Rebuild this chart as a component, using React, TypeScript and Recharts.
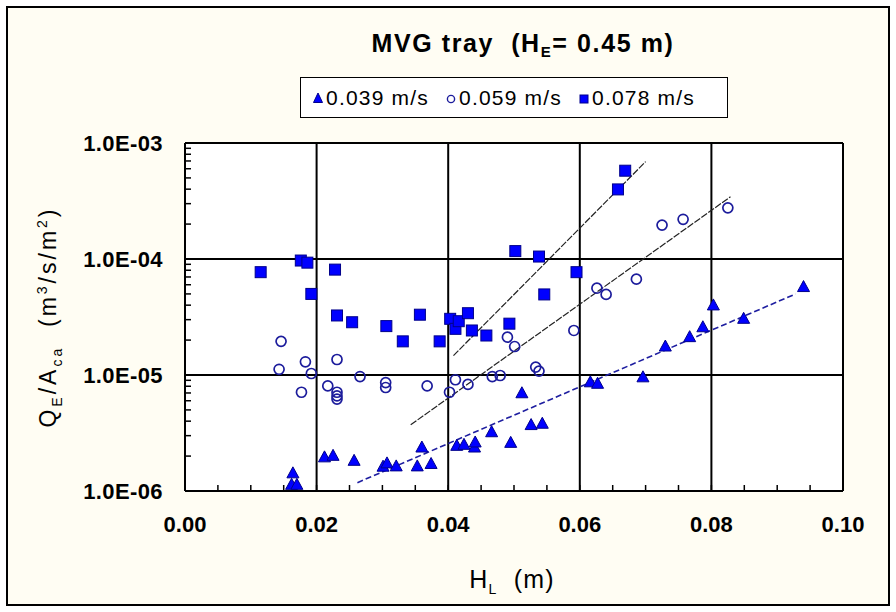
import { ScatterChart, Scatter, XAxis, YAxis, ReferenceLine, Legend, CartesianGrid } from "recharts";

// 0.039 m/s (triangles)
const triX = [0.0164, 0.0162, 0.017, 0.0212, 0.0225, 0.0257, 0.0301, 0.0307, 0.0321, 0.0353, 0.036, 0.0374, 0.0413, 0.0424, 0.044, 0.0441, 0.0466, 0.0495, 0.0512, 0.0526, 0.0543, 0.0616, 0.0627, 0.0696, 0.073, 0.0767, 0.0787, 0.0803, 0.0849, 0.094];
const triY = [1.42e-6, 1.13e-6, 1.13e-6, 1.95e-6, 2.01e-6, 1.82e-6, 1.62e-6, 1.73e-6, 1.63e-6, 1.63e-6, 2.37e-6, 1.71e-6, 2.45e-6, 2.5e-6, 2.37e-6, 2.62e-6, 3.21e-6, 2.6e-6, 6.96e-6, 3.7e-6, 3.8e-6, 8.65e-6, 8.4e-6, 9.55e-6, 1.76e-5, 2.12e-5, 2.58e-5, 3.98e-5, 3.05e-5, 5.73e-5];

// 0.059 m/s (open circles)
const cirX = [0.0146, 0.0143, 0.0183, 0.0192, 0.0177, 0.0217, 0.0231, 0.0231, 0.0231, 0.0231, 0.0266, 0.0305, 0.0305, 0.0368, 0.0402, 0.0411, 0.043, 0.0467, 0.0479, 0.049, 0.0501, 0.0533, 0.0538, 0.0591, 0.0626, 0.064, 0.0686, 0.0725, 0.0757, 0.0825];
const cirY = [1.95e-5, 1.12e-5, 1.3e-5, 1.03e-5, 7.1e-6, 8.05e-6, 1.36e-5, 7.1e-6, 6.6e-6, 6.2e-6, 9.7e-6, 8.6e-6, 7.8e-6, 8.05e-6, 7.1e-6, 9.1e-6, 8.3e-6, 9.7e-6, 9.9e-6, 2.12e-5, 1.76e-5, 1.17e-5, 1.08e-5, 2.42e-5, 5.6e-5, 4.95e-5, 6.7e-5, 1.96e-4, 2.2e-4, 2.76e-4];

// 0.078 m/s (filled squares)
const sqX = [0.0115, 0.0176, 0.0186, 0.0192, 0.0228, 0.0231, 0.0254, 0.0306, 0.0331, 0.0357, 0.0387, 0.0403, 0.0411, 0.0416, 0.043, 0.0436, 0.0458, 0.0493, 0.0502, 0.0538, 0.0546, 0.0595, 0.0658, 0.0669];
const sqY = [7.7e-5, 9.7e-5, 9.3e-5, 5.0e-5, 8.1e-5, 3.26e-5, 2.85e-5, 2.64e-5, 1.95e-5, 3.31e-5, 1.95e-5, 3.05e-5, 2.5e-5, 2.91e-5, 3.41e-5, 2.42e-5, 2.19e-5, 2.77e-5, 1.17e-4, 1.05e-4, 4.95e-5, 7.7e-5, 3.98e-4, 5.77e-4];

// trend line end points
const trendTriX = [0.0262, 0.0928];
const trendTriY = [1.18e-6, 5.0e-5];
const trendCirX = [0.0343, 0.0829];
const trendCirY = [3.72e-6, 3.44e-4];
const trendSqX = [0.0408, 0.07];
const trendSqY = [1.47e-5, 6.9e-4];

const seriesNames = ["0.039 m/s", "0.059 m/s", "0.078 m/s"];

const xTicks = [0, 0.005, 0.01, 0.015, 0.02, 0.025, 0.03, 0.035, 0.04, 0.045, 0.05, 0.055, 0.06, 0.065, 0.07, 0.075, 0.08, 0.085, 0.09, 0.095, 0.1];
const xMajor = [0, 0.02, 0.04, 0.06, 0.08, 0.1];
const xGrid = [0.02, 0.04, 0.06, 0.08];
const yDecades = [1e-6, 1e-5, 1e-4, 1e-3];
const yLabels = ["1.0E-06", "1.0E-05", "1.0E-04", "1.0E-03"];
const yGrid = [1e-5, 1e-4];

const zip = (xs: number[], ys: number[]) => xs.map((x, i) => ({ x, y: ys[i] }));

const yTicks: number[] = [];
yDecades.forEach((d, i) => {
  if (i < yDecades.length - 1) {
    for (let k = 1; k < 10; k++) yTicks.push(d * k);
  } else yTicks.push(d);
});

const FONT = "'Liberation Sans', Arial, sans-serif";
const BLUE = "#0000FF";
const NAVY = "#00008B";

const Triangle = (p: any) => (
  <polygon points={`${p.cx},${p.cy - 6.5} ${p.cx - 6},${p.cy + 4.5} ${p.cx + 6},${p.cy + 4.5}`} fill={BLUE} stroke={NAVY} strokeWidth={1} />
);
const Square = (p: any) => (
  <rect x={p.cx - 5.5} y={p.cy - 5.5} width={11} height={11} fill={BLUE} stroke={NAVY} strokeWidth={1} />
);
const Circle = (p: any) => <circle cx={p.cx} cy={p.cy} r={5} fill="none" stroke="#1C1C9C" strokeWidth={1.7} />;
const NoMark = () => <g />;

const XTick = (p: any) => {
  const v = p.payload.value;
  const major = xMajor.some((m) => Math.abs(m - v) < 1e-9);
  return (
    <g>
      <line x1={p.x} y1={p.y} x2={p.x} y2={p.y - 6} stroke="#000" strokeWidth={1.5} />
      {major && (
        <text x={p.x} y={p.y + 41} textAnchor="middle" fontSize={22} fontWeight="bold" fontFamily={FONT} fill="#000">
          {v.toFixed(2)}
        </text>
      )}
    </g>
  );
};

const YTick = (p: any) => {
  const v = p.payload.value;
  const idx = yDecades.findIndex((d) => Math.abs(d - v) / d < 1e-6);
  return (
    <g>
      <line x1={p.x} y1={p.y} x2={p.x + 6} y2={p.y} stroke="#000" strokeWidth={1.5} />
      {idx >= 0 && (
        <text x={p.x - 22} y={p.y + 8} textAnchor="end" fontSize={22} fontWeight="bold" fontFamily={FONT} fill="#000" letterSpacing={0.4}>
          {yLabels[idx]}
        </text>
      )}
    </g>
  );
};

const LegendBox = () => (
  <div
    style={{
      width: 428,
      height: 41,
      boxSizing: "border-box",
      border: "1.5px solid #000",
      background: "#fff",
      display: "flex",
      alignItems: "center",
      fontFamily: FONT,
      fontSize: 21,
      color: "#000",
      paddingLeft: 11,
    }}
  >
    {seriesNames.map((name, i) => (
      <span key={name} style={{ display: "flex", alignItems: "center", marginRight: i < 2 ? 16 : 0 }}>
        <svg width={12} height={12} style={{ marginRight: 2 }}>
          {i === 0 && <polygon points="6,1 1.5,10.5 10.5,10.5" fill={BLUE} stroke={NAVY} />}
          {i === 1 && <circle cx={6} cy={7} r={3.6} fill="none" stroke="#1C1C9C" strokeWidth={1.4} />}
          {i === 2 && <rect x={2} y={3} width={8} height={8} fill={BLUE} stroke={NAVY} />}
        </svg>
        <span style={{ letterSpacing: 1.2 }}>{name}</span>
      </span>
    ))}
  </div>
);

export default function App() {
  return (
    <div style={{ position: "absolute", left: 0, top: 0, width: 896, height: 612, background: "#fff", fontFamily: FONT }}>
      <div
        style={{
          position: "absolute",
          left: 6,
          top: 6,
          width: 884,
          height: 600,
          boxSizing: "border-box",
          border: "2px solid #000",
          background: "#FFFDF3",
        }}
      />
      <div
        style={{
          position: "absolute",
          left: 0,
          top: 29,
          width: 1046,
          textAlign: "center",
          fontSize: 25,
          fontWeight: "bold",
          letterSpacing: 1.6,
          color: "#000",
        }}
      >
        MVG tray&nbsp;&nbsp;(H<sub style={{ fontSize: 15, verticalAlign: -5 }}>E</sub>= 0.45 m)
      </div>
      <div style={{ position: "absolute", left: 0, top: 0 }}>
        <ScatterChart width={896} height={612} margin={{ top: 143, right: 53, bottom: 81, left: 0 }}>
          <CartesianGrid horizontal={false} vertical={false} fill="#fff" />
          <XAxis
            type="number"
            dataKey="x"
            domain={[0, 0.1]}
            ticks={xTicks}
            interval={0}
            tickSize={0}
            tickMargin={0}
            height={40}
            tick={<XTick />}
            axisLine={{ stroke: "#000", strokeWidth: 2 }}
            allowDataOverflow
            label={{
              content: () => (
                <text x={512} y={588} textAnchor="middle" fontSize={25} fontFamily={FONT} fill="#000" style={{ whiteSpace: "pre" }} letterSpacing={1.2}>
                  H<tspan dy={6} fontSize={14}>L</tspan>
                  <tspan dy={-6}>{"  (m)"}</tspan>
                </text>
              ),
            }}
          />
          <YAxis
            type="number"
            dataKey="y"
            scale="log"
            domain={[1e-6, 1e-3]}
            ticks={yTicks}
            interval={0}
            width={185}
            tickSize={0}
            tickMargin={0}
            tick={<YTick />}
            axisLine={{ stroke: "#000", strokeWidth: 2 }}
            allowDataOverflow
            label={{
              content: () => (
                <text
                  transform="translate(56,317) rotate(-90)"
                  textAnchor="middle"
                  fontSize={23}
                  fontFamily={FONT}
                  fill="#000"
                  letterSpacing={3}
                  style={{ whiteSpace: "pre" }}
                >
                  Q<tspan dy={6} fontSize={14}>E</tspan>
                  <tspan dy={-6}>/A</tspan>
                  <tspan dy={6} fontSize={14}>ca</tspan>
                  <tspan dy={-6}>{"  (m"}</tspan>
                  <tspan dy={-9} fontSize={14}>3</tspan>
                  <tspan dy={9}>/s/m</tspan>
                  <tspan dy={-9} fontSize={14}>2</tspan>
                  <tspan dy={9}>)</tspan>
                </text>
              ),
            }}
          />
          {xGrid.map((v) => (
            <ReferenceLine key={`vx${v}`} x={v} stroke="#000" strokeWidth={2} />
          ))}
          {yGrid.map((v) => (
            <ReferenceLine key={`hy${v}`} y={v} stroke="#000" strokeWidth={2} />
          ))}
          <ReferenceLine x={0.1} stroke="#000" strokeWidth={2} />
          <ReferenceLine y={1e-3} stroke="#000" strokeWidth={2} />
          <Scatter data={zip(trendTriX, trendTriY)} shape={<NoMark />} line={{ stroke: "#1E1EA0", strokeWidth: 1.6, strokeDasharray: "6 3" }} legendType="none" isAnimationActive={false} />
          <Scatter data={zip(trendCirX, trendCirY)} shape={<NoMark />} line={{ stroke: "#222", strokeWidth: 1.2, strokeDasharray: "7 1.5" }} legendType="none" isAnimationActive={false} />
          <Scatter data={zip(trendSqX, trendSqY)} shape={<NoMark />} line={{ stroke: "#222", strokeWidth: 1.2, strokeDasharray: "7 1.5" }} legendType="none" isAnimationActive={false} />
          <Scatter name={seriesNames[1]} data={zip(cirX, cirY)} shape={<Circle />} isAnimationActive={false} />
          <Scatter name={seriesNames[0]} data={zip(triX, triY)} shape={<Triangle />} isAnimationActive={false} />
          <Scatter name={seriesNames[2]} data={zip(sqX, sqY)} shape={<Square />} isAnimationActive={false} />
          <Legend
            layout="horizontal"
            verticalAlign="middle"
            align="center"
            content={() => <LegendBox />}
            wrapperStyle={{ position: "absolute", left: 300, top: 77, width: 428, height: 41 }}
          />
        </ScatterChart>
      </div>
    </div>
  );
}
